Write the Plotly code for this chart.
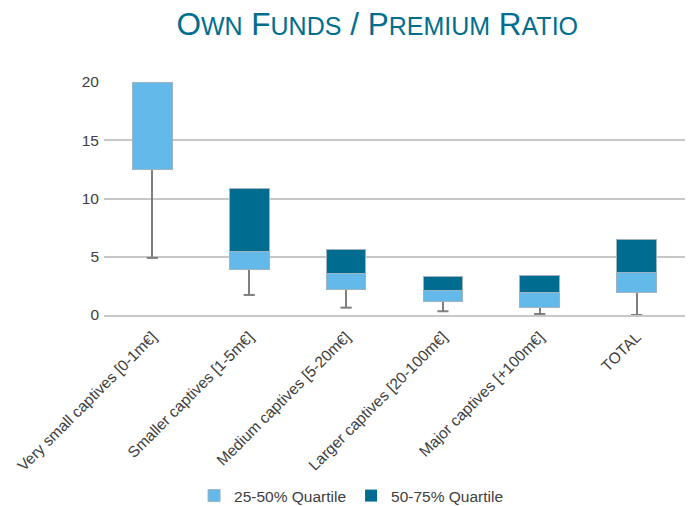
import plotly.graph_objects as go

categories = [
    "Very small captives [0-1m€]",
    "Smaller captives [1-5m€]",
    "Medium captives [5-20m€]",
    "Larger captives [20-100m€]",
    "Major captives [+100m€]",
    "TOTAL",
]
minimum = [4.9, 1.72, 0.63, 0.32, 0.09, 0.0]
quartile1 = [12.5, 3.89, 2.15, 1.15, 0.64, 1.93]
median = [20.0, 5.41, 3.6, 2.1, 1.93, 3.62]
quartile3 = [20.0, 10.87, 5.66, 3.28, 3.42, 6.5]
y_ticks = [0, 5, 10, 15, 20]

light = [m - q for m, q in zip(median, quartile1)]
dark = [q - m for q, m in zip(quartile3, median)]
whisker = [q - mn for q, mn in zip(quartile1, minimum)]

FONT = "Liberation Sans, Arial, sans-serif"
TXT = "#404040"
GRID = "#c8c8c8"
WHISK = "#7f7f7f"

fig = go.Figure()
fig.add_trace(go.Bar(
    x=categories, y=quartile1, showlegend=False, hoverinfo="skip",
    marker=dict(color="rgba(0,0,0,0)", line=dict(width=0)),
    error_y=dict(type="data", symmetric=False, array=[0] * len(categories),
                 arrayminus=whisker, color=WHISK, thickness=2, width=0),
))
fig.add_trace(go.Bar(
    x=categories, y=light, name="25-50% Quartile",
    marker=dict(color="#63B9EA", line=dict(color="#9fb3c0", width=1)),
))
fig.add_trace(go.Bar(
    x=categories, y=dark, name="50-75% Quartile",
    marker=dict(color="#006C8F", line=dict(color="#9fb3c0",
                width=[0 if d == 0 else 1 for d in dark])),
))
fig.add_trace(go.Scatter(
    x=categories, y=minimum, mode="markers", showlegend=False, hoverinfo="skip",
    marker=dict(symbol="line-ew", size=8, line=dict(color=WHISK, width=2)),
    cliponaxis=False,
))

S = "<span style='font-size:25px'>"
title_text = (f"O{S}WN</span> F{S}UNDS</span> / "
              f"P{S}REMIUM</span> R{S}ATIO</span>")

fig.update_layout(
    width=694, height=506,
    barmode="stack", bargap=0.59,
    paper_bgcolor="white", plot_bgcolor="white",
    margin=dict(l=96, r=17, t=74, b=199, autoexpand=False),
    font=dict(family=FONT, color=TXT, size=15),
    title=dict(text=title_text, x=0.532, xanchor="center", y=0.968, yanchor="middle",
               font=dict(family=FONT, size=31.5, color="#006E8F")),
    legend=dict(orientation="h", x=0.155, xanchor="left", yref="container",
                y=1 - 488 / 506, yanchor="middle",
                font=dict(size=15.5, color=TXT), traceorder="normal"),
    xaxis=dict(tickangle=-45, showline=True, linecolor=GRID, linewidth=1.5,
               ticks="", ticklabelstandoff=5,
               tickfont=dict(size=15.5, color=TXT), automargin=False),
    yaxis=dict(range=[0, 20], tickvals=y_ticks, showgrid=True, gridcolor=GRID,
               gridwidth=1.5, zeroline=False, ticks="", ticklabelstandoff=4,
               tickfont=dict(size=15.5, color=TXT), automargin=False),
)

fig.write_html("out.html")
